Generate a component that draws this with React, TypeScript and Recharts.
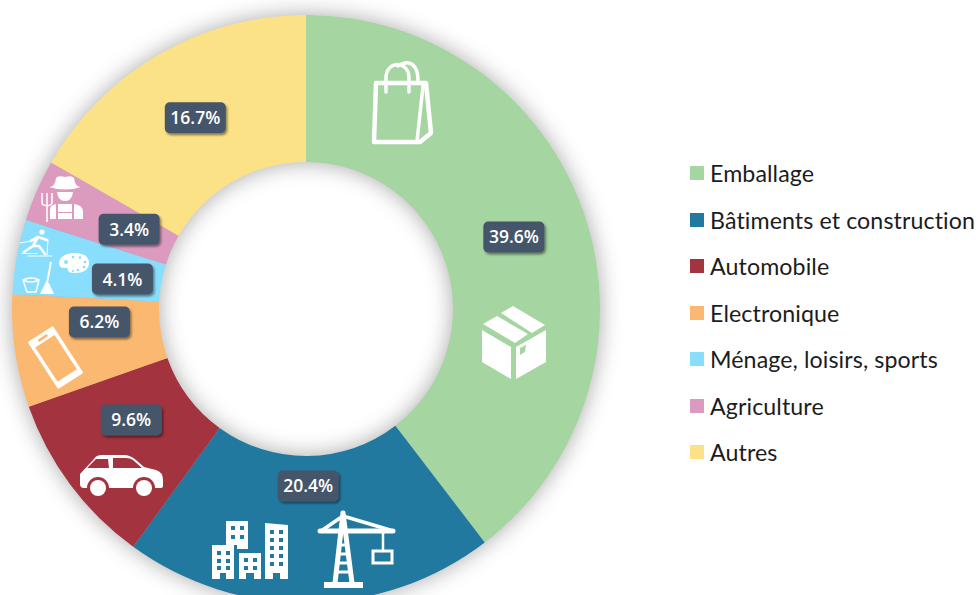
import { PieChart, Pie, Cell, Legend } from "recharts"

const categories = [
  "Emballage",
  "Bâtiments et construction",
  "Automobile",
  "Electronique",
  "Ménage, loisirs, sports",
  "Agriculture",
  "Autres",
]
const shares = [39.6, 20.4, 9.6, 6.2, 4.1, 3.4, 16.7]
const colors = ["#A5D5A0", "#2279A0", "#A2333F", "#FBB870", "#88DEFC", "#DC9ABF", "#FCE286"]
// distance of each badge from the centre of the ring, and how far it sits off the slice's mid angle
const badgeRadius = [220, 177, 207, 207, 186, 194, 221]
const badgeShift = [0.4, 0, -4.3, -4.7, 1, -0.5, 0]

const chartData = categories.map((name, i) => ({ name, value: shares[i] }))

const RADIAN = Math.PI / 180
const WHITE = "#ffffff"

function Badge({ cx, cy, midAngle, index, value }: any) {
  const r = badgeRadius[index]
  const angle = midAngle + badgeShift[index]
  const x = cx + r * Math.cos(-angle * RADIAN)
  const y = cy + r * Math.sin(-angle * RADIAN)
  return (
    <g>
      <rect
        x={x - 30.5}
        y={y - 15.5}
        width={61}
        height={31}
        rx={5}
        fill="#44546A"
        filter="url(#badgeShadow)"
      />
      <text
        x={x}
        y={y + 6.5}
        textAnchor="middle"
        fill={WHITE}
        fontFamily="'Open Sans', sans-serif"
        fontWeight={600}
        fontSize={17.5}
      >
        {value.toFixed(1)}%
      </text>
    </g>
  )
}

function LegendList() {
  return (
    <div style={{ fontFamily: "Lato, sans-serif", fontSize: 23.2, letterSpacing: 0.1, color: "#1c1c1c" }}>
      {categories.map((name, i) => (
        <div key={name} style={{ display: "flex", alignItems: "center", height: 46.5, whiteSpace: "nowrap" }}>
          <span style={{ width: 14, height: 14, marginRight: 6, background: colors[i], flex: "none" }} />
          {name}
        </div>
      ))}
    </div>
  )
}

// Pictograms drawn on the slices, in a layer over the chart
function Icons() {
  const rows = (xs: number[], ys: number[], s: number, fill: string) =>
    xs.flatMap((x) => ys.map((y) => <rect key={`${x}-${y}`} x={x} y={y} width={s} height={s} fill={fill} />))
  const blue = colors[1]
  const red = colors[2]
  const orange = colors[3]
  const sky = colors[4]
  return (
    <svg width={979} height={595} style={{ position: "absolute", left: 0, top: 0, pointerEvents: "none" }}>
      {/* shopping bag */}
      <g fill="none" stroke={WHITE} strokeWidth={4.5} strokeLinejoin="round" strokeLinecap="round">
        <path d="M376 83 L426 83 L431 133 L420 142 L374 142 Z" />
        <path d="M423 86 L417 141" strokeWidth={3.5} />
        <path d="M386 92 V78 C386 60 409 60 409 78 V92" strokeWidth={3.5} />
        <path d="M398 66 C410 58 418 66 418 80" strokeWidth={3.5} />
      </g>

      {/* box */}
      <g fill={WHITE}>
        <path d="M482 330 L511 347 V379 L482 362 Z" />
        <path d="M516 347 L546 330 V362 L516 379 Z" />
        <path d="M483 324 L497 316 L528 334 L515 343 Z" />
        <path d="M501 313 L513 306 L545 325 L532 333 Z" />
        <path d="M520 348 L526 345 L525 352 L520 355 Z" fill={colors[0]} />
      </g>

      {/* buildings */}
      <g fill={WHITE}>
        <path d="M226 521 H248 V549 H237 V545 H226 Z" />
        <path d="M212 545 H234 V579 H226 V573 H220 V579 H212 Z" />
        <path d="M239 553 H261 V579 H254 V573 H246 V579 H239 Z" />
        <path d="M265 523 L288 525 V579 H280 V573 H273 V579 H265 Z" />
      </g>
      {rows([231, 240], [526, 535], 4, blue)}
      {rows([217, 226], [551, 559, 566], 4, blue)}
      {rows([244, 253], [558, 566], 4, blue)}
      {rows([270, 279], [530, 538, 546, 554, 562], 4, blue)}

      {/* crane */}
      <g fill="none" stroke={WHITE} strokeLinecap="round">
        <path d="M320 531 H393" strokeWidth={5} />
        <path d="M343 516 L321 531 M343 516 L390 530" strokeWidth={3.5} />
        <path d="M343 513 L335 583 M343 513 L352 583" strokeWidth={5} />
        <path d="M339 545 H347 M338 554 H348 M337 563 H349 M336 572 H350" strokeWidth={3} />
        <path d="M383 532 V551" strokeWidth={2.5} />
        <rect x={373} y={551} width={19} height={12} strokeWidth={3} strokeLinecap="butt" />
      </g>
      <rect x={324} y={582} width={39} height={6} fill={WHITE} />

      {/* car */}
      <path
        d="M80 474 L94 459 Q96 455 102 455 H124 Q130 455 136 460 L144 467 L156 470 Q163 472 163 480 V486 Q163 488 160 488 H84 Q80 488 80 484 Z"
        fill={WHITE}
      />
      <path d="M87 468 L96 459 H108 L109 468 Z M113 458 H126 Q130 458 133 460 L142 468 H113 Z" fill={red} />
      <circle cx={98} cy={488} r={11} fill={red} />
      <circle cx={144} cy={488} r={11} fill={red} />
      <circle cx={98} cy={488} r={8} fill={WHITE} />
      <circle cx={144} cy={488} r={8} fill={WHITE} />

      {/* phone */}
      <g transform="rotate(-33 55.5 357.5)">
        <rect x={40.5} y={329.5} width={30} height={56} rx={1.5} fill={WHITE} />
        <rect x={44} y={338} width={23} height={41} fill={orange} />
        <rect x={50} y={333} width={11} height={2.5} rx={1.2} fill={orange} />
      </g>

      {/* farmer */}
      <g fill={WHITE}>
        <path d="M49 187 Q55 187 56 178 Q58 175 65 177 Q72 175 74 178 Q75 187 81 187 Q65 192 49 187 Z" />
        <path d="M57 192 H73 Q72 201 65 201 Q58 201 57 192 Z" />
        <path d="M50 219 V210 Q50 205 56 204 V219 Z" />
        <path d="M58 204 H72 V212 H58 Z" />
        <path d="M58 213 H72 V219 H58 Z" />
        <path d="M74 204 Q83 205 83 212 V219 H74 Z" />
      </g>
      <g fill="none" stroke={WHITE} strokeWidth={1.5}>
        <path d="M42 193 V203 Q42 205 47 206 Q52 205 52 203 V193 M47 193 V222" />
      </g>

      {/* skier */}
      <circle cx={42} cy={232} r={2.6} fill={WHITE} />
      <g fill="none" stroke={WHITE} strokeLinecap="round" strokeLinejoin="round">
        <path d="M38 237 L33 246 L24 252 M33 246 L39 246 L45 254 M38 237 L47 240 M38 237 L31 241" strokeWidth={2.6} />
        <path d="M22 253.5 H37 M28 256 H52 M31 241 L20 243 M48 240 L47 255" strokeWidth={1} />
      </g>

      {/* palette */}
      <path
        d="M59 263 Q60 254 73 253 Q89 253 89 263 Q89 273 74 273 Q68 273 68 270 Q68 267 64 268 Q59 268 59 263 Z"
        fill={WHITE}
      />
      <g fill={sky}>
        <circle cx={73} cy={257} r={1.3} />
        <circle cx={80} cy={257.5} r={1.3} />
        <circle cx={85} cy={262} r={1.3} />
        <circle cx={84} cy={267} r={1.3} />
        <circle cx={78} cy={270} r={1.3} />
        <circle cx={73} cy={271} r={1.1} />
        <circle cx={66} cy={262} r={2} />
      </g>

      {/* bucket and broom */}
      <g fill="none" stroke={WHITE} strokeWidth={1.5}>
        <path d="M23 280 Q31 276 39 280 L36 292 H27 Z" />
        <path d="M23 280 Q31 284 39 280" />
      </g>
      <path d="M51 262 L47 283" stroke={WHITE} strokeWidth={2} />
      <path d="M46 282 L49 283 L54 294 H40 Z" fill={WHITE} />
    </svg>
  )
}

export default function App() {
  return (
    <div style={{ position: "absolute", left: 0, top: 0, width: 979, height: 595, overflow: "hidden", background: WHITE }}>
      <style>{`.recharts-pie { filter: drop-shadow(0 0 11px rgba(0,0,0,0.34)); }`}</style>
      <PieChart width={979} height={595} margin={{ top: 0, right: 0, bottom: 0, left: 0 }}>
        <defs>
          <filter id="badgeShadow" x="-20%" y="-20%" width="150%" height="160%">
            <feDropShadow dx={1.5} dy={2} stdDeviation={1.2} floodColor="#000" floodOpacity={0.45} />
          </filter>
        </defs>
        <Pie
          data={chartData}
          dataKey="value"
          nameKey="name"
          cx={306}
          cy={309}
          innerRadius={147}
          outerRadius={294}
          startAngle={90}
          endAngle={-270}
          stroke="none"
          label={Badge}
          labelLine={false}
          isAnimationActive={false}
        >
          {chartData.map((d, i) => (
            <Cell key={d.name} fill={colors[i]} />
          ))}
        </Pie>
        <Legend content={<LegendList />} wrapperStyle={{ left: 690, top: 150, width: 289, bottom: "auto" }} />
      </PieChart>
      <Icons />
    </div>
  )
}
